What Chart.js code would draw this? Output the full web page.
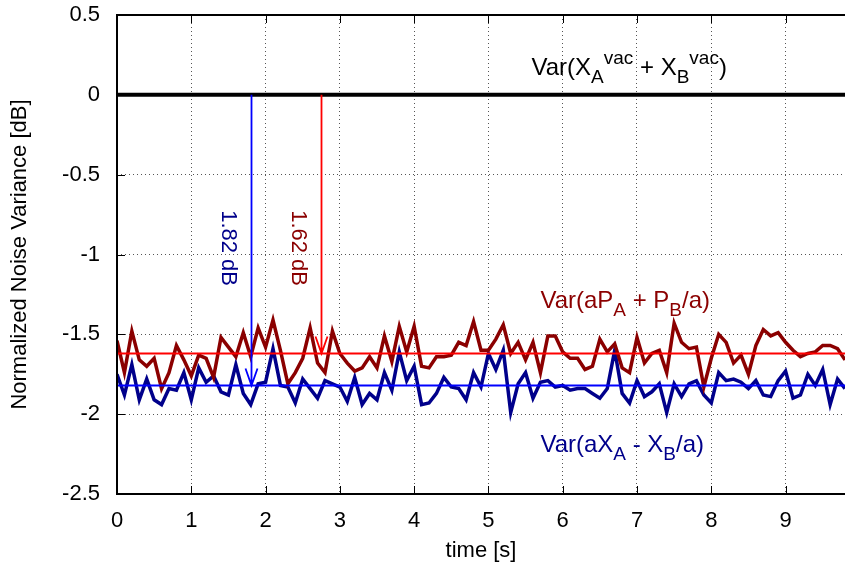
<!DOCTYPE html>
<html lang="en">
<head>
    <meta charset="UTF-8">
    <title>Normalized Noise Variance</title>
    <script src="https://cdn.jsdelivr.net/npm/chart.js"></script>
    <style>
        html, body { margin: 0; padding: 0; background: #fff; }
        #wrap { width: 845px; height: 569px; }
    </style>
</head>
<body>
<div id="wrap"><canvas id="noiseChart" width="845" height="569"></canvas></div>
<script>
    // sampling of the traces (seconds)
    const sampleStep = 0.1;
    const xTicks = [0, 1, 2, 3, 4, 5, 6, 7, 8, 9];
    const yTicks = [0.5, 0, -0.5, -1, -1.5, -2, -2.5];

    // reference levels [dB]
    const vacuumLevel = 0;
    const pMean = -1.62;   // Var(aP_A + P_B/a)
    const xMean = -1.82;   // Var(aX_A - X_B/a)

    // Var(aP_A + P_B/a) trace [dB]
    const pNoise = [
        -1.54, -1.74, -1.48, -1.66, -1.70, -1.65, -1.84, -1.74, -1.57, -1.66,
        -1.76, -1.63, -1.65, -1.77, -1.52, -1.58, -1.64, -1.49, -1.64, -1.46,
        -1.58, -1.41, -1.60, -1.81, -1.74, -1.65, -1.46, -1.68, -1.74, -1.48,
        -1.62, -1.68, -1.73, -1.71, -1.64, -1.71, -1.51, -1.67, -1.45, -1.61,
        -1.45, -1.70, -1.71, -1.64, -1.64, -1.63, -1.55, -1.57, -1.42, -1.60,
        -1.60, -1.53, -1.44, -1.62, -1.55, -1.66, -1.55, -1.74, -1.51, -1.51,
        -1.61, -1.65, -1.65, -1.72, -1.70, -1.53, -1.61, -1.56, -1.71, -1.74,
        -1.52, -1.68, -1.62, -1.60, -1.74, -1.43, -1.55, -1.59, -1.58, -1.83,
        -1.65, -1.50, -1.55, -1.68, -1.63, -1.75, -1.57, -1.47, -1.51, -1.49,
        -1.55, -1.60, -1.64, -1.62, -1.61, -1.57, -1.57, -1.59, -1.66
    ];

    // Var(aX_A - X_B/a) trace [dB]
    const xNoise = [
        -1.75, -1.88, -1.69, -1.91, -1.78, -1.91, -1.94, -1.84, -1.85, -1.74,
        -1.91, -1.71, -1.80, -1.76, -1.86, -1.88, -1.69, -1.87, -1.94, -1.81,
        -1.80, -1.59, -1.82, -1.83, -1.93, -1.78, -1.84, -1.90, -1.79, -1.81,
        -1.83, -1.92, -1.77, -1.94, -1.87, -1.91, -1.74, -1.85, -1.61, -1.79,
        -1.70, -1.94, -1.93, -1.87, -1.77, -1.83, -1.84, -1.91, -1.74, -1.83,
        -1.62, -1.72, -1.60, -1.99, -1.81, -1.74, -1.90, -1.80, -1.79, -1.83,
        -1.82, -1.85, -1.84, -1.84, -1.87, -1.90, -1.84, -1.60, -1.87, -1.93,
        -1.79, -1.89, -1.86, -1.81, -1.99, -1.81, -1.89, -1.81, -1.79, -1.88,
        -1.93, -1.74, -1.79, -1.78, -1.80, -1.84, -1.79, -1.88, -1.89, -1.79,
        -1.73, -1.90, -1.88, -1.75, -1.82, -1.72, -1.94, -1.78, -1.84
    ];

    const tMax = 9.8;
    const FONT = '"Liberation Sans", Arial, Helvetica, sans-serif';

    const toPoints = arr => arr.map((v, i) => ({ x: i * sampleStep, y: v }));
    const flat = level => [{ x: 0, y: level }, { x: tMax, y: level }];

    // gnuplot-like overlay: frame, inward ticks, arrows and labels
    const overlay = {
        id: 'overlay',
        afterDatasetsDraw(chart) {
            const { ctx, chartArea: a, scales: { x, y } } = chart;
            ctx.save();

            // inward tick marks
            ctx.strokeStyle = '#000';
            ctx.lineWidth = 1;
            ctx.beginPath();
            x.ticks.forEach(t => {
                const px = Math.round(x.getPixelForValue(t.value)) + 0.5;
                ctx.moveTo(px, a.top); ctx.lineTo(px, a.top + 8);
                ctx.moveTo(px, a.bottom); ctx.lineTo(px, a.bottom - 8);
            });
            y.ticks.forEach(t => {
                const py = Math.round(y.getPixelForValue(t.value)) + 0.5;
                ctx.moveTo(a.left, py); ctx.lineTo(a.left + 8, py);
            });
            ctx.stroke();

            // frame (right side is cut off in the original)
            ctx.lineWidth = 2;
            ctx.beginPath();
            ctx.moveTo(a.right + 2, a.top);
            ctx.lineTo(a.left, a.top);
            ctx.lineTo(a.left, a.bottom);
            ctx.lineTo(a.right + 2, a.bottom);
            ctx.stroke();

            // difference arrows from the vacuum level down to the means
            const arrows = [
                { t: 1.8, to: xMean, color: '#0000ff' },
                { t: 2.75, to: pMean, color: '#ff0000' }
            ];
            arrows.forEach(ar => {
                const px = Math.round(x.getPixelForValue(ar.t)) + 0.5;
                const y0 = y.getPixelForValue(vacuumLevel);
                const y1 = y.getPixelForValue(ar.to);
                ctx.strokeStyle = ar.color;
                ctx.lineWidth = 1.8;
                ctx.beginPath();
                ctx.moveTo(px, y0); ctx.lineTo(px, y1);
                ctx.moveTo(px - 6, y1 - 17); ctx.lineTo(px, y1); ctx.lineTo(px + 6, y1 - 17);
                ctx.stroke();
            });

            // rotated dB labels
            const rotLabels = [
                { t: 1.495, v: -0.96, text: (vacuumLevel - xMean).toFixed(2) + ' dB', color: '#00008b' },
                { t: 2.44, v: -0.96, text: (vacuumLevel - pMean).toFixed(2) + ' dB', color: '#8b0000' }
            ];
            ctx.font = '22px ' + FONT;
            ctx.textAlign = 'center';
            ctx.textBaseline = 'middle';
            rotLabels.forEach(l => {
                ctx.save();
                ctx.translate(x.getPixelForValue(l.t), y.getPixelForValue(l.v));
                ctx.rotate(Math.PI / 2);
                ctx.fillStyle = l.color;
                ctx.fillText(l.text, 0, 0);
                ctx.restore();
            });

            // series labels with sub/superscripts
            const drawRich = (parts, px, py, color) => {
                ctx.fillStyle = color;
                ctx.textAlign = 'left';
                ctx.textBaseline = 'alphabetic';
                let cx = px;
                parts.forEach(([txt, kind]) => {
                    let dy = 0;
                    if (kind === 'sub') { ctx.font = '19px ' + FONT; dy = 8; }
                    else if (kind === 'sup') { ctx.font = '19px ' + FONT; dy = -11; }
                    else ctx.font = '24px ' + FONT;
                    ctx.fillText(txt, cx, py + dy);
                    cx += ctx.measureText(txt).width;
                });
            };
            drawRich([['Var(X'], ['A', 'sub'], ['vac', 'sup'], [' + X'], ['B', 'sub'], ['vac', 'sup'], [')']],
                x.getPixelForValue(5.58), y.getPixelForValue(0.124), '#000');
            drawRich([['Var(aP'], ['A', 'sub'], [' + P'], ['B', 'sub'], ['/a)']],
                x.getPixelForValue(5.70), y.getPixelForValue(-1.337), '#8b0000');
            drawRich([['Var(aX'], ['A', 'sub'], [' - X'], ['B', 'sub'], ['/a)']],
                x.getPixelForValue(5.70), y.getPixelForValue(-2.24), '#00008b');

            ctx.restore();
        }
    };

    const ctx = document.getElementById('noiseChart').getContext('2d');
    new Chart(ctx, {
        type: 'line',
        data: {
            datasets: [
                { label: 'Var(X_A^vac + X_B^vac)', data: flat(vacuumLevel), borderColor: '#000', borderWidth: 4, order: 0 },
                { label: 'mean P', data: flat(pMean), borderColor: '#ff0000', borderWidth: 2, order: 1 },
                { label: 'mean X', data: flat(xMean), borderColor: '#0000ff', borderWidth: 2, order: 1 },
                { label: 'Var(aP_A + P_B/a)', data: toPoints(pNoise), borderColor: '#8b0000', borderWidth: 3.5, order: 2 },
                { label: 'Var(aX_A - X_B/a)', data: toPoints(xNoise), borderColor: '#00008b', borderWidth: 3.5, order: 2 }
            ]
        },
        options: {
            responsive: false,
            animation: false,
            elements: { point: { radius: 0 }, line: { tension: 0, borderJoinStyle: 'miter' } },
            layout: { padding: { top: 15, right: 0, left: 0, bottom: 0 } },
            plugins: { legend: { display: false }, tooltip: { enabled: false } },
            scales: {
                x: {
                    type: 'linear',
                    min: 0,
                    max: tMax,
                    afterFit: s => { s.height = 75; s.paddingLeft = 0; s.paddingRight = 0; },
                    afterBuildTicks: s => { s.ticks = xTicks.map(v => ({ value: v })); },
                    ticks: { padding: 14, color: '#000', font: { family: FONT, size: 22 }, callback: v => String(v), maxRotation: 0 },
                    grid: {
                        drawTicks: false,
                        color: c => (c.tick && c.tick.value === 0) ? 'rgba(0,0,0,0)' : '#555',
                        lineWidth: 1
                    },
                    border: { display: false, dash: [1, 3] },
                    title: { display: true, text: 'time [s]', color: '#000', font: { family: FONT, size: 22 }, padding: { top: 0, bottom: 5 } }
                },
                y: {
                    type: 'linear',
                    min: -2.5,
                    max: 0.5,
                    afterFit: s => { s.width = 117; s.paddingTop = 0; s.paddingBottom = 0; },
                    afterBuildTicks: s => { s.ticks = yTicks.map(v => ({ value: v })); },
                    ticks: { padding: 17, color: '#000', font: { family: FONT, size: 22 }, callback: v => String(v) },
                    grid: {
                        drawTicks: false,
                        color: c => (c.tick && [0.5, 0, -2.5].includes(c.tick.value)) ? 'rgba(0,0,0,0)' : '#555',
                        lineWidth: 1
                    },
                    border: { display: false, dash: [1, 3] },
                    title: { display: true, text: 'Normalized Noise Variance [dB]', color: '#000', font: { family: FONT, size: 22 }, padding: { top: 7, bottom: 0 } }
                }
            }
        },
        plugins: [overlay]
    });
</script>
</body>
</html>
